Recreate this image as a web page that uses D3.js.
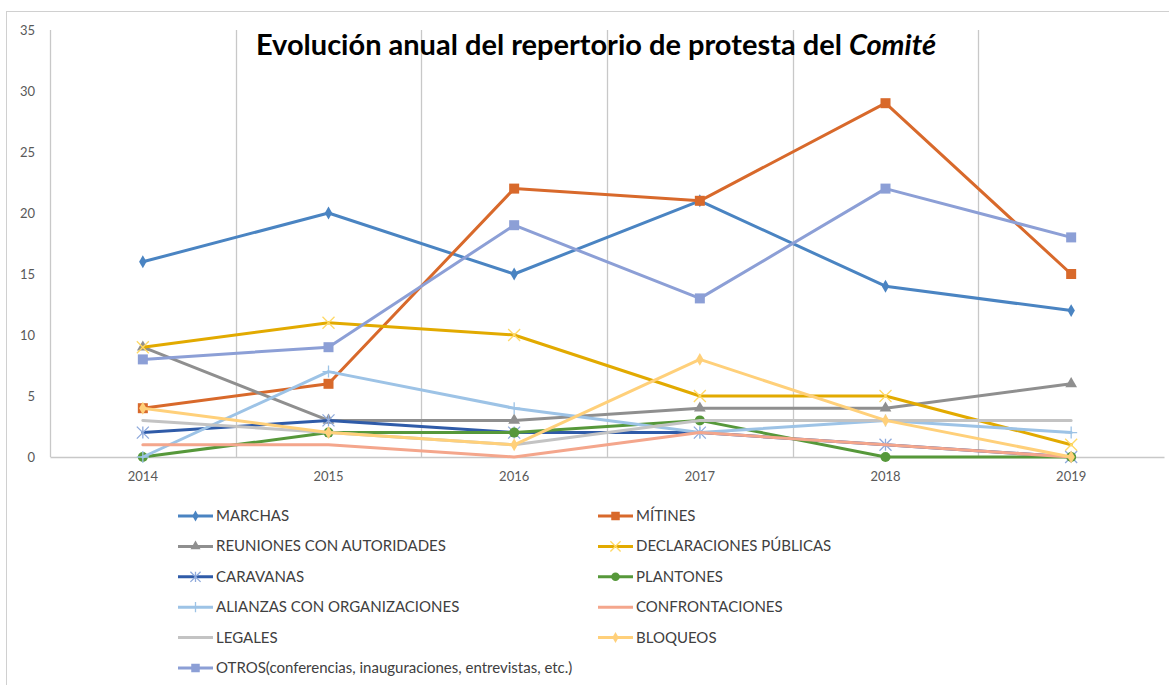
<!DOCTYPE html>
<html>
<head>
<meta charset="utf-8">
<script src="https://cdn.jsdelivr.net/npm/d3@7"></script>
<style>
  body { margin: 0; background: #fff; }
  text { font-family: Lato, "Open Sans", sans-serif; }
</style>
</head>
<body>
<div id="chart"></div>
<script>
// Data
var years = ["2014", "2015", "2016", "2017", "2018", "2019"];
var yTicks = [0, 5, 10, 15, 20, 25, 30, 35];

var marchas        = [16, 20, 15, 21, 14, 12];
var mitines        = [4, 6, 22, 21, 29, 15];
var reuniones      = [9, 3, 3, 4, 4, 6];
var declaraciones  = [9, 11, 10, 5, 5, 1];
var caravanas      = [2, 3, 2, 2, 1, 0];
var plantones      = [0, 2, 2, 3, 0, 0];
var alianzas       = [0, 7, 4, 2, 3, 2];
var confrontaciones = [1, 1, 0, 2, 1, 0];
var legales        = [3, 2, 1, 3, 3, 3];
var bloqueos       = [4, 2, 1, 8, 3, 0];
var otros          = [8, 9, 19, 13, 22, 18];

var seriesNames = ["MARCHAS", "MÍTINES", "REUNIONES CON AUTORIDADES", "DECLARACIONES PÚBLICAS",
    "CARAVANAS", "PLANTONES", "ALIANZAS CON ORGANIZACIONES", "CONFRONTACIONES",
    "LEGALES", "BLOQUEOS", "OTROS(conferencias, inauguraciones, entrevistas, etc.)"];
var seriesValues = [marchas, mitines, reuniones, declaraciones, caravanas, plantones,
    alianzas, confrontaciones, legales, bloqueos, otros];

// Look of each series
var styles = [
    { color: '#4a84c2', marker: 'diamond', mcolor: '#4a84c2' },
    { color: '#d8692b', marker: 'square', mcolor: '#d8692b' },
    { color: '#8f8f8f', marker: 'triangle', mcolor: '#8f8f8f' },
    { color: '#e2aa00', marker: 'x', mcolor: '#ffd966' },
    { color: '#2f5ba8', marker: 'star', mcolor: '#8faadc' },
    { color: '#56983a', marker: 'circle', mcolor: '#56983a' },
    { color: '#9dc3e6', marker: 'plus', mcolor: '#9dc3e6' },
    { color: '#f4a68c', marker: 'none', mcolor: null },
    { color: '#c3c3c3', marker: 'none', mcolor: null },
    { color: '#ffd07a', marker: 'diamond', mcolor: '#ffd07a' },
    { color: '#8c9fd6', marker: 'square', mcolor: '#8c9fd6' }
];

var width = 1169, height = 685;
var plot = { left: 50, right: 1164, top: 30, bottom: 457 };

var svg = d3.select('#chart').append('svg')
    .attr('width', width)
    .attr('height', height);

// chart frame
svg.append('rect')
    .attr('x', 6.5).attr('y', 11.5)
    .attr('width', 1170).attr('height', 690)
    .attr('fill', 'none')
    .attr('stroke', '#d0d0d0');

var x = d3.scaleBand().domain(years).range([plot.left, plot.right]);
var y = d3.scaleLinear().domain([0, 35]).range([plot.bottom, plot.top]);

// vertical gridlines at category boundaries
svg.append('g').selectAll('line')
    .data(years)
    .join('line')
    .attr('x1', d => Math.round(x(d)) + 0.5)
    .attr('x2', d => Math.round(x(d)) + 0.5)
    .attr('y1', plot.top)
    .attr('y2', plot.bottom)
    .attr('stroke', '#c8c8c8')
    .attr('stroke-width', 1.3);

// horizontal axis
var xAxis = svg.append('g')
    .attr('transform', `translate(0,${plot.bottom})`)
    .call(d3.axisBottom(x).tickSize(0).tickPadding(15));
xAxis.select('.domain').attr('stroke', '#c8c8c8').attr('stroke-width', 1.3);
xAxis.selectAll('text')
    .style('font-family', 'Lato, sans-serif')
    .style('font-size', '13px')
    .attr('fill', '#595959');

// vertical axis labels (no line)
var yAxis = svg.append('g')
    .attr('transform', `translate(${plot.left},0)`)
    .call(d3.axisLeft(y).tickValues(yTicks).tickSize(0).tickPadding(15));
yAxis.select('.domain').remove();
yAxis.selectAll('text')
    .style('font-family', 'Lato, sans-serif')
    .style('font-size', '13px')
    .attr('fill', '#595959');

// title
var title = svg.append('text')
    .attr('x', 596)
    .attr('y', 55)
    .attr('text-anchor', 'middle')
    .style('font-size', '29px')
    .style('font-weight', 'bold')
    .attr('fill', '#000');
title.append('tspan').text('Evolución anual del repertorio de protesta del ');
title.append('tspan').style('font-style', 'italic').text('Comité');

function drawMarker(g, type, cx, cy, color, scale) {
    var s = scale || 1;
    if (type === 'none') return;
    if (type === 'diamond') {
        g.append('path')
            .attr('d', d3.symbol(d3.symbolDiamond, 48 * s * s)())
            .attr('transform', `translate(${cx},${cy})`)
            .attr('fill', color);
    } else if (type === 'square') {
        g.append('rect')
            .attr('x', cx - 5 * s).attr('y', cy - 5 * s)
            .attr('width', 10 * s).attr('height', 10 * s)
            .attr('fill', color);
    } else if (type === 'triangle') {
        g.append('path')
            .attr('d', d3.symbol(d3.symbolTriangle, 60 * s * s)())
            .attr('transform', `translate(${cx},${cy})`)
            .attr('fill', color);
    } else if (type === 'circle') {
        g.append('circle')
            .attr('cx', cx).attr('cy', cy).attr('r', 5 * s)
            .attr('fill', color);
    } else if (type === 'x') {
        var r = 6 * s;
        g.append('path')
            .attr('d', `M${cx - r},${cy - r}L${cx + r},${cy + r}M${cx - r},${cy + r}L${cx + r},${cy - r}`)
            .attr('stroke', color).attr('stroke-width', 1.3).attr('fill', 'none');
    } else if (type === 'star') {
        var r2 = 6 * s;
        g.append('path')
            .attr('d', `M${cx - r2},${cy - r2}L${cx + r2},${cy + r2}M${cx - r2},${cy + r2}L${cx + r2},${cy - r2}M${cx},${cy - r2}L${cx},${cy + r2}`)
            .attr('stroke', color).attr('stroke-width', 1.3).attr('fill', 'none');
    } else if (type === 'plus') {
        var r3 = 6 * s;
        g.append('path')
            .attr('d', `M${cx - r3},${cy}L${cx + r3},${cy}M${cx},${cy - r3}L${cx},${cy + r3}`)
            .attr('stroke', color).attr('stroke-width', 1.3).attr('fill', 'none');
    }
}

var line = d3.line()
    .x((d, i) => x(years[i]) + x.bandwidth() / 2)
    .y(d => y(d));

// series lines and markers
seriesValues.forEach(function(vals, k) {
    var st = styles[k];
    var g = svg.append('g').attr('class', 'series');
    g.append('path')
        .datum(vals)
        .attr('d', line)
        .attr('fill', 'none')
        .attr('stroke', st.color)
        .attr('stroke-width', 3)
        .attr('stroke-linejoin', 'round')
        .attr('stroke-linecap', 'round');
    vals.forEach(function(v, i) {
        drawMarker(g, st.marker, x(years[i]) + x.bandwidth() / 2, y(v), st.mcolor);
    });
});

// legend, two columns
var legend = svg.append('g');
var colX = [178, 598];
var rowY0 = 516, rowStep = 30.4;
seriesNames.forEach(function(name, k) {
    var st = styles[k];
    var lx = colX[k % 2];
    var ly = rowY0 + Math.floor(k / 2) * rowStep;
    var item = legend.append('g');
    item.append('line')
        .attr('x1', lx).attr('x2', lx + 35)
        .attr('y1', ly).attr('y2', ly)
        .attr('stroke', st.color)
        .attr('stroke-width', 3);
    drawMarker(item, st.marker, lx + 17.5, ly, st.mcolor, 0.85);
    item.append('text')
        .attr('x', lx + 38)
        .attr('y', ly + 5)
        .style('font-size', '15px')
        .attr('fill', '#404040')
        .text(name);
});
</script>
</body>
</html>
